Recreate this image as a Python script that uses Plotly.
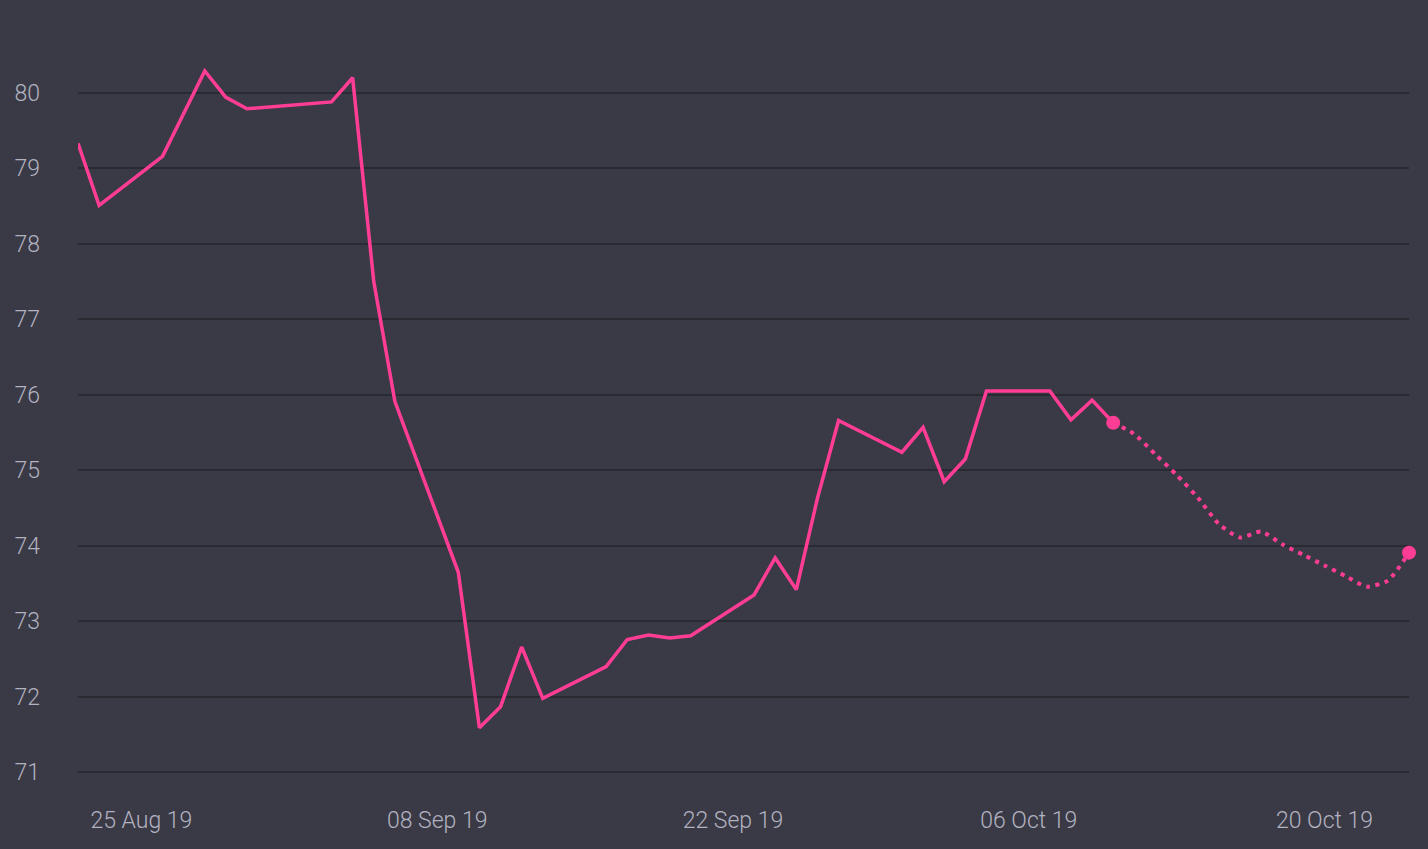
import plotly.graph_objects as go

actual_dates = [
    "2019-08-22", "2019-08-23", "2019-08-26", "2019-08-28", "2019-08-29", "2019-08-30",
    "2019-09-03", "2019-09-04", "2019-09-05", "2019-09-06", "2019-09-09", "2019-09-10",
    "2019-09-11", "2019-09-12", "2019-09-13", "2019-09-16", "2019-09-17", "2019-09-18",
    "2019-09-19", "2019-09-20", "2019-09-23", "2019-09-24", "2019-09-25", "2019-09-26",
    "2019-09-27", "2019-09-30", "2019-10-01", "2019-10-02", "2019-10-03", "2019-10-04",
    "2019-10-07", "2019-10-08", "2019-10-09", "2019-10-10",
]
actual_values = [
    79.33, 78.51, 79.16, 80.29, 79.94, 79.79,
    79.88, 80.20, 77.50, 75.91, 73.65, 71.59,
    71.87, 72.66, 71.98, 72.40, 72.76, 72.82,
    72.78, 72.81, 73.35, 73.84, 73.42, 74.63,
    75.66, 75.24, 75.57, 74.85, 75.15, 76.05,
    76.05, 75.67, 75.93, 75.63,
]

forecast_dates = [
    "2019-10-10", "2019-10-11", "2019-10-12", "2019-10-13", "2019-10-14",
    "2019-10-15", "2019-10-16", "2019-10-17", "2019-10-18", "2019-10-19",
    "2019-10-20", "2019-10-21", "2019-10-22", "2019-10-23", "2019-10-24",
]
forecast_values = [
    75.63, 75.48, 75.21, 74.94, 74.64,
    74.29, 74.11, 74.19, 74.02, 73.88,
    73.74, 73.60, 73.46, 73.54, 73.91,
]

tick_dates = ["2019-08-25", "2019-09-08", "2019-09-22", "2019-10-06", "2019-10-20"]
y_ticks = [71, 72, 73, 74, 75, 76, 77, 78, 79, 80]

PINK = "#ff3d94"
BG = "#3a3a46"
GRID = "#2a2a33"
TEXT = "#b2b2c0"
FONT = "Roboto, sans-serif"

fig = go.Figure()
fig.add_trace(go.Scatter(
    x=actual_dates, y=actual_values, mode="lines",
    line=dict(color=PINK, width=3.5), cliponaxis=False, hoverinfo="skip",
))
fig.add_trace(go.Scatter(
    x=forecast_dates, y=forecast_values, mode="lines",
    line=dict(color=PINK, width=4, dash="4px,5.5px", shape="spline", smoothing=0.6),
    cliponaxis=False, hoverinfo="skip",
))
fig.add_trace(go.Scatter(
    x=[forecast_dates[0], forecast_dates[-1]],
    y=[forecast_values[0], forecast_values[-1]],
    mode="markers", marker=dict(color=PINK, size=14),
    cliponaxis=False, hoverinfo="skip",
))

fig.update_layout(
    width=1428, height=849,
    margin=dict(l=78, r=19, t=40, b=54),
    paper_bgcolor=BG, plot_bgcolor=BG,
    showlegend=False,
    font=dict(family=FONT, color=TEXT, size=23, weight=300),
    xaxis=dict(
        range=["2019-08-22", "2019-10-24"],
        tickvals=tick_dates, tickformat="%d %b %y",
        showgrid=False, zeroline=False, showline=False,
        ticks="", ticklabelstandoff=9,
    ),
    yaxis=dict(
        range=[70.7, 80.7], tickvals=y_ticks,
        showgrid=True, gridcolor=GRID, gridwidth=2,
        zeroline=False, showline=False, ticks="",
        ticklabelstandoff=37,
    ),
)

fig.write_html(
    "out.html",
    config={"displayModeBar": False},
    post_script="document.body.style.margin='0';document.body.style.overflow='hidden';"
                "document.body.style.background='#3a3a46';",
)
